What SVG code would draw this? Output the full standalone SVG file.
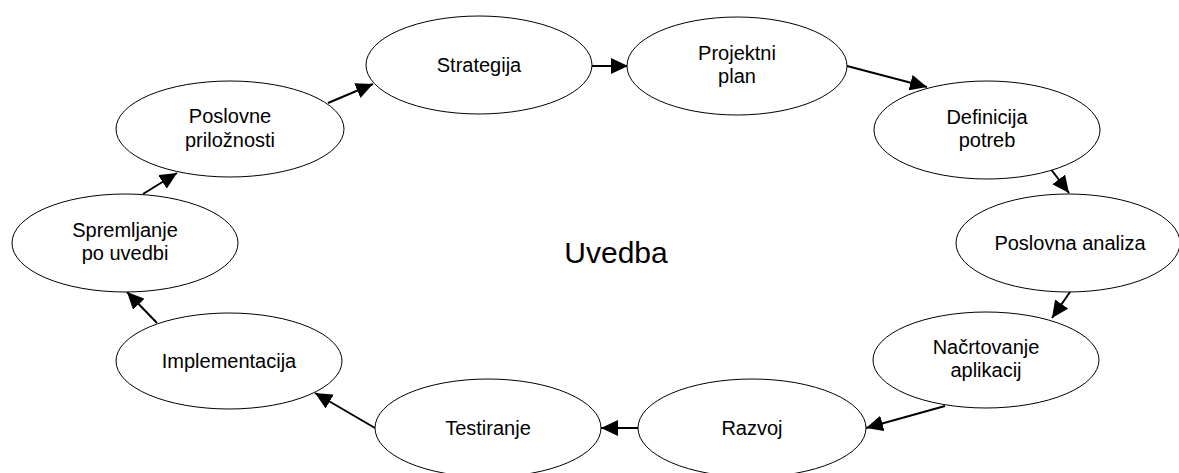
<svg xmlns="http://www.w3.org/2000/svg" width="1179" height="473" viewBox="0 0 1179 473">
  <style>
    .node ellipse { fill: #ffffff; stroke: #000000; stroke-width: 1; }
    .node text { font-family: "Liberation Sans", Arial, sans-serif; font-size: 20px; fill: #000000; text-anchor: middle; }
    .edge { stroke: #000000; stroke-width: 2; fill: none; marker-end: url(#arrow); }
    .title { font-family: "Liberation Sans", Arial, sans-serif; font-size: 30px; fill: #000000; text-anchor: middle; }
  </style>
  <defs>
    <marker id="arrow" markerUnits="userSpaceOnUse" markerWidth="17" markerHeight="16" refX="17" refY="8" orient="auto">
      <path d="M0,0 L17,8 L0,16 Z" fill="#000000"/>
    </marker>
  </defs>
  <rect width="1179" height="473" fill="#ffffff"/>

  <!-- cycle connectors -->
  <g id="connectors">
    <line class="edge" x1="328" y1="103" x2="373" y2="84"/>
    <line class="edge" x1="592" y1="66" x2="628" y2="66"/>
    <line class="edge" x1="847" y1="66" x2="927" y2="87"/>
    <line class="edge" x1="1050" y1="168" x2="1069" y2="193"/>
    <line class="edge" x1="1070" y1="292" x2="1052" y2="318"/>
    <line class="edge" x1="945" y1="406" x2="866" y2="428"/>
    <line class="edge" x1="638" y1="428" x2="601" y2="428"/>
    <line class="edge" x1="375" y1="428" x2="315" y2="393"/>
    <line class="edge" x1="157" y1="323" x2="127" y2="292"/>
    <line class="edge" x1="143" y1="194" x2="177" y2="173"/>
  </g>

  <g id="strategija" class="node">
    <ellipse cx="479" cy="65" rx="113" ry="49"/>
    <text x="479" y="72">Strategija</text>
  </g>
  <g id="projektni-plan" class="node">
    <ellipse cx="737" cy="66" rx="110" ry="49"/>
    <text x="737" y="60">Projektni</text>
    <text x="737" y="83">plan</text>
  </g>
  <g id="definicija-potreb" class="node">
    <ellipse cx="987" cy="130" rx="113" ry="49"/>
    <text x="987" y="124">Definicija</text>
    <text x="987" y="147">potreb</text>
  </g>
  <g id="poslovna-analiza" class="node">
    <ellipse cx="1068" cy="243" rx="112" ry="49"/>
    <text x="1070" y="250">Poslovna analiza</text>
  </g>
  <g id="nacrtovanje-aplikacij" class="node">
    <ellipse cx="986" cy="360" rx="113" ry="48"/>
    <text x="986" y="354">Načrtovanje</text>
    <text x="986" y="377">aplikacij</text>
  </g>
  <g id="razvoj" class="node">
    <ellipse cx="752" cy="428" rx="114" ry="49"/>
    <text x="752" y="435">Razvoj</text>
  </g>
  <g id="testiranje" class="node">
    <ellipse cx="488" cy="428" rx="113" ry="49"/>
    <text x="488" y="435">Testiranje</text>
  </g>
  <g id="implementacija" class="node">
    <ellipse cx="229" cy="361" rx="113" ry="48"/>
    <text x="229" y="368">Implementacija</text>
  </g>
  <g id="spremljanje-po-uvedbi" class="node">
    <ellipse cx="125" cy="243" rx="113" ry="49"/>
    <text x="125" y="237">Spremljanje</text>
    <text x="125" y="260">po uvedbi</text>
  </g>
  <g id="poslovne-priloznosti" class="node">
    <ellipse cx="230" cy="129" rx="114" ry="48"/>
    <text x="230" y="123">Poslovne</text>
    <text x="230" y="147">priložnosti</text>
  </g>

  <text class="title" x="616" y="263">Uvedba</text>
</svg>
